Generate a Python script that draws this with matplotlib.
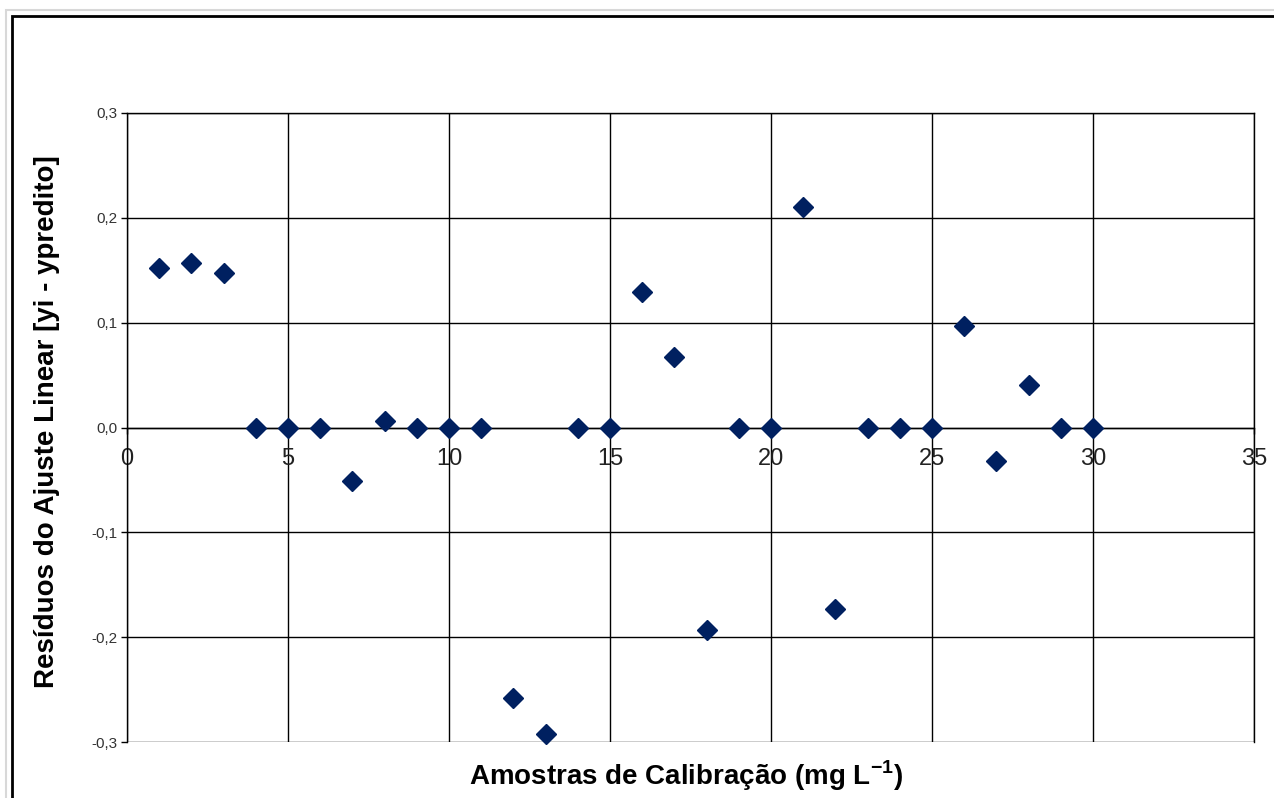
import matplotlib.pyplot as plt
from matplotlib.patches import Rectangle

# amostras e residuos
amostras = list(range(1, 31))
residuos = [0.152, 0.157, 0.147, 0.0, 0.0, 0.0, -0.051, 0.006, 0.0, 0.0,
            0.0, -0.258, -0.292, 0.0, 0.0, 0.129, 0.067, -0.193, 0.0, 0.0,
            0.210, -0.173, 0.0, 0.0, 0.0, 0.097, -0.032, 0.041, 0.0, 0.0]

x_ticks = [0, 5, 10, 15, 20, 25, 30, 35]
y_ticks = [-0.3, -0.2, -0.1, 0.0, 0.1, 0.2, 0.3]
y_labels = ['-0,3', '-0,2', '-0,1', '0,0', '0,1', '0,2', '0,3']

plt.rcParams['font.family'] = ['Liberation Sans', 'DejaVu Sans']
plt.rcParams['mathtext.fontset'] = 'custom'
plt.rcParams['mathtext.rm'] = 'Liberation Sans'
plt.rcParams['mathtext.bf'] = 'Liberation Sans:bold'

W, H = 1274, 798
fig = plt.figure(figsize=(W / 100, H / 100), dpi=100)

# moldura externa do grafico
fig.patches.append(Rectangle((6 / W, -0.1), 1.2, (H - 10) / H + 0.1,
                             transform=fig.transFigure, fill=False,
                             edgecolor='#d8d8d8', linewidth=1.5))
fig.patches.append(Rectangle((12 / W, -0.1), 1.2, (H - 16) / H + 0.1,
                             transform=fig.transFigure, fill=False,
                             edgecolor='black', linewidth=2))

ax = fig.add_axes([127 / W, (H - 742) / H, (1254 - 127) / W, (742 - 113) / H])
ax.spines['bottom'].set_position(('data', 0))

ax.plot(amostras, residuos, linestyle='none', marker='D', markersize=10,
        color='#002060', zorder=5, clip_on=False)

ax.set_xlim(0, 35)
ax.set_ylim(-0.3, 0.3)
ax.set_xticks(x_ticks)
ax.set_xticklabels([str(v) for v in x_ticks])
ax.set_yticks(y_ticks)
ax.set_yticklabels(y_labels)
ax.grid(True, color='black', linewidth=1)

for s in ax.spines.values():
    s.set_linewidth(1)
    s.set_color('black')
ax.tick_params(axis='x', length=4, width=1, pad=11, labelsize=17, labelcolor='#222222')
ax.tick_params(axis='y', length=4, width=1, pad=3, labelsize=11, labelcolor='#333333')

fig.text(686 / W, 1 - 776 / H, r'Amostras de Calibração (mg L$^{\mathbf{-1}}$)',
         fontsize=20, fontweight='bold', ha='center', va='center')
fig.text(47 / W, 1 - 422 / H, 'Resíduos do Ajuste Linear [yi - ypredito]',
         fontsize=20, fontweight='bold', ha='center', va='center', rotation=90)

fig.savefig('out.png', dpi=100)
